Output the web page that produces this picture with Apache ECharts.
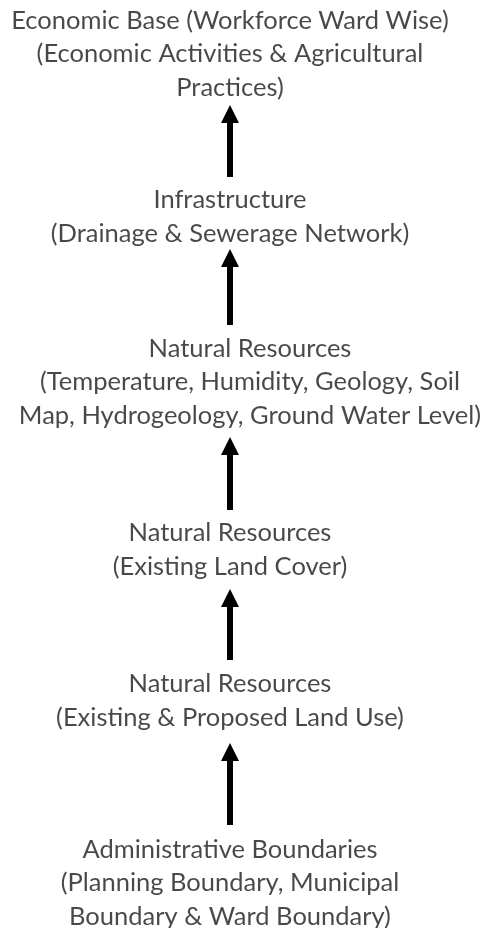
<!DOCTYPE html>
<html>
<head>
<meta charset="utf-8">
<script src="https://cdn.jsdelivr.net/npm/echarts@6/dist/echarts.min.js"></script>
<style>
  html, body { margin: 0; padding: 0; background: #fff; }
  #chart { width: 492px; height: 928px; }
</style>
</head>
<body>
<div id="chart"></div>
<script>
// Layered planning inputs, read top-down
const blockTexts = [
  ['Economic Base (Workforce Ward Wise)', '(Economic Activities & Agricultural', 'Practices)'],
  ['Infrastructure', '(Drainage & Sewerage Network)'],
  ['Natural Resources', '(Temperature, Humidity, Geology, Soil', 'Map, Hydrogeology, Ground Water Level)'],
  ['Natural Resources', '(Existing Land Cover)'],
  ['Natural Resources', '(Existing & Proposed Land Use)'],
  ['Administrative Boundaries', '(Planning Boundary, Municipal', 'Boundary & Ward Boundary)']
];
const blockX = [230, 230, 250, 230, 230, 230];
const blockY = [54, 217, 382, 550, 701, 883];
// arrows: x, tail y, head y
const arrowX = [230, 230, 230, 230, 230];
const arrowTail = [177, 325, 510, 660, 825];
const arrowHead = [105, 249, 437, 589, 743];

const chart = echarts.init(document.getElementById('chart'), null, { renderer: 'canvas' });

const textData = blockTexts.map((lines, i) => ({
  value: [blockX[i], blockY[i]],
  label: { formatter: lines.join('\n') }
}));

const arrowData = arrowX.map((x, i) => ({
  coords: [[x, arrowTail[i]], [x, arrowHead[i] + 9]]
}));

chart.setOption({
  animation: false,
  grid: { left: 0, right: 0, top: 0, bottom: 0 },
  xAxis: { type: 'value', min: 0, max: 492, show: false },
  yAxis: { type: 'value', min: 0, max: 928, inverse: true, show: false },
  series: [
    {
      type: 'scatter',
      symbolSize: 0,
      data: textData,
      label: {
        show: true,
        position: 'inside',
        align: 'center',
        verticalAlign: 'middle',
        fontFamily: 'Lato',
        fontSize: 25.5,
        lineHeight: 33.5,
        color: '#1a1a1a'
      }
    },
    {
      type: 'lines',
      coordinateSystem: 'cartesian2d',
      symbol: ['none', 'triangle'],
      symbolSize: [14, 18],
      lineStyle: { color: '#000', width: 6, opacity: 1 },
      data: arrowData
    }
  ]
});
</script>
</body>
</html>
